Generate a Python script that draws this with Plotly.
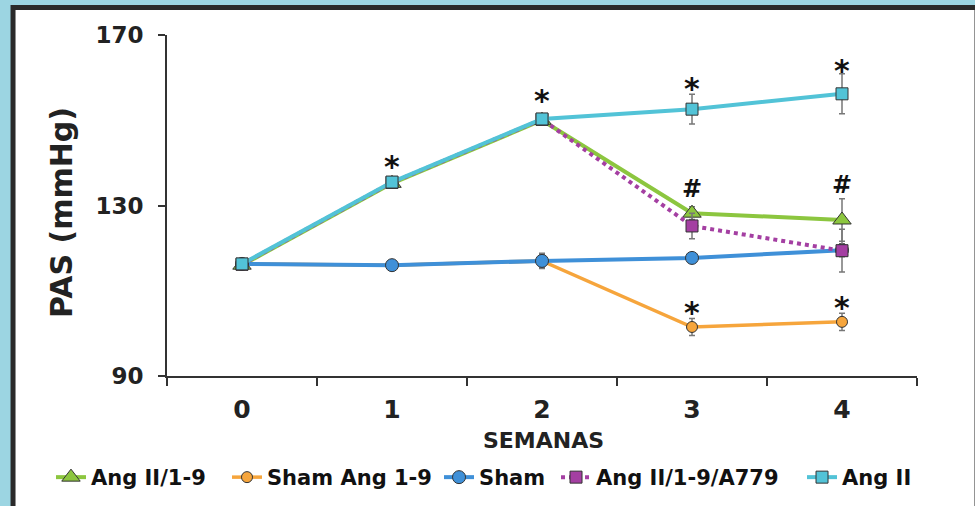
import plotly.graph_objects as go

weeks = ["0", "1", "2", "3", "4"]

ang_19 = [116.0, 135.2, 150.0, 128.2, 126.6]
ang_19_err = [0.6, 1.0, 1.0, 1.5, 5.0]

sham_19 = [116.3, 116.0, 117.0, 101.5, 102.7]
sham_19_err = [0.5, 0.5, 1.5, 2.0, 2.0]

sham = [116.3, 116.0, 117.0, 117.7, 119.5]
sham_err = [0.5, 0.5, 1.8, 1.0, 1.5]

ang_19_a779 = [116.2, 135.4, 150.2, 125.2, 119.4]
ang_19_a779_err = [0.5, 1.0, 1.0, 3.0, 5.0]

ang_ii = [116.3, 135.5, 150.3, 152.6, 156.2]
ang_ii_err = [0.5, 1.0, 1.2, 3.5, 4.7]

star_weeks = ["1", "2", "3", "4"]
star_y = [139.2, 154.6, 157.4, 161.6]
hash_weeks = ["3", "4"]
hash_y = [133.8, 134.8]
star2_weeks = ["3", "4"]
star2_y = [104.8, 106.0]

FONT = "DejaVu Sans"

fig = go.Figure()

legend_x = [-0.1547, 0.0800, 0.3627, 0.5187, 0.8467]
legend_ids = ["legend", "legend2", "legend3", "legend4", "legend5"]

def add(i, name, y, err, color, symbol, msize, dash="solid", lw=4):
    fig.add_trace(go.Scatter(
        x=weeks, y=y, name=name, mode="lines+markers",
        line=dict(color=color, width=lw, dash=dash),
        marker=dict(symbol=symbol, size=msize, color=color,
                    line=dict(color="#333333", width=1)),
        error_y=dict(type="data", array=err, color="#777777",
                     thickness=1.5, width=3),
        legend=legend_ids[i],
    ))

add(0, "Ang II/1-9", ang_19, ang_19_err, "#8cc63f", "triangle-up", 16)
add(1, "Sham Ang 1-9", sham_19, sham_19_err, "#f6a53c", "circle", 11, lw=3.5)
add(2, "Sham", sham, sham_err, "#3f90d8", "circle", 13)
add(3, "Ang II/1-9/A779", ang_19_a779, ang_19_a779_err, "#a43fa2", "square", 12, dash="dot")
add(4, "Ang II", ang_ii, ang_ii_err, "#52c3d7", "square", 12)

for xs, ys, txt, sz in [(star_weeks, star_y, "*", 30), (hash_weeks, hash_y, "#", 24),
                        (star2_weeks, star2_y, "*", 30)]:
    for xv, yv in zip(xs, ys):
        fig.add_annotation(x=xv, y=yv, text=txt, showarrow=False,
                           font=dict(family=FONT, size=sz, color="#111111", weight="bold"),
                           yanchor="middle")

fig.add_annotation(xref="paper", yref="paper", x=-0.14, y=0.481,
                   xanchor="center", yanchor="middle",
                   text="PAS (mmHg)", textangle=-90, showarrow=False,
                   font=dict(family=FONT, size=30, color="#222222", weight="bold"))
fig.add_annotation(xref="paper", yref="paper", x=0.502, y=-0.188,
                   xanchor="center", yanchor="middle",
                   text="SEMANAS", showarrow=False,
                   font=dict(family=FONT, size=22, color="#222222", weight="bold"))

# panel background with dark border
fig.add_shape(type="rect", xref="paper", yref="paper",
              x0=-0.2053, x1=1.08, y0=-0.40, y1=1.081,
              fillcolor="white", line=dict(color="#2a2a2a", width=5),
              layer="below")

leg_common = dict(orientation="h", y=-0.2375, xanchor="left", yanchor="top",
                  font=dict(family=FONT, size=21, color="#111111", weight="bold"),
                  itemwidth=30, bgcolor="rgba(0,0,0,0)")

fig.update_layout(
    width=975, height=506,
    margin=dict(l=167, r=58, t=35, b=130, autoexpand=False),
    paper_bgcolor="#9cd5e2",
    plot_bgcolor="rgba(0,0,0,0)",
    showlegend=True,
    xaxis=dict(type="category", range=[-0.5, 4.5], tickson="boundaries",
               ticks="outside", ticklen=8, tickwidth=2, tickcolor="#333333",
               showline=True, linecolor="#333333", linewidth=2,
               showgrid=False, zeroline=False, ticklabelstandoff=10,
               tickfont=dict(family=FONT, size=25, color="#222222", weight="bold")),
    yaxis=dict(range=[90, 170], tickvals=[90, 130, 170],
               ticks="outside", ticklen=7, tickwidth=2, tickcolor="#333333",
               showline=True, linecolor="#333333", linewidth=2,
               showgrid=False, zeroline=False, ticklabelstandoff=10,
               tickfont=dict(family=FONT, size=23, color="#222222", weight="bold")),
)
for lid, lx in zip(legend_ids, legend_x):
    fig.update_layout({lid: dict(x=lx, **leg_common)})

fig.write_html("out.html",
               config={"displayModeBar": False},
               post_script="document.body.style.margin='0';"
                           "document.body.style.background='#9cd5e2';")
